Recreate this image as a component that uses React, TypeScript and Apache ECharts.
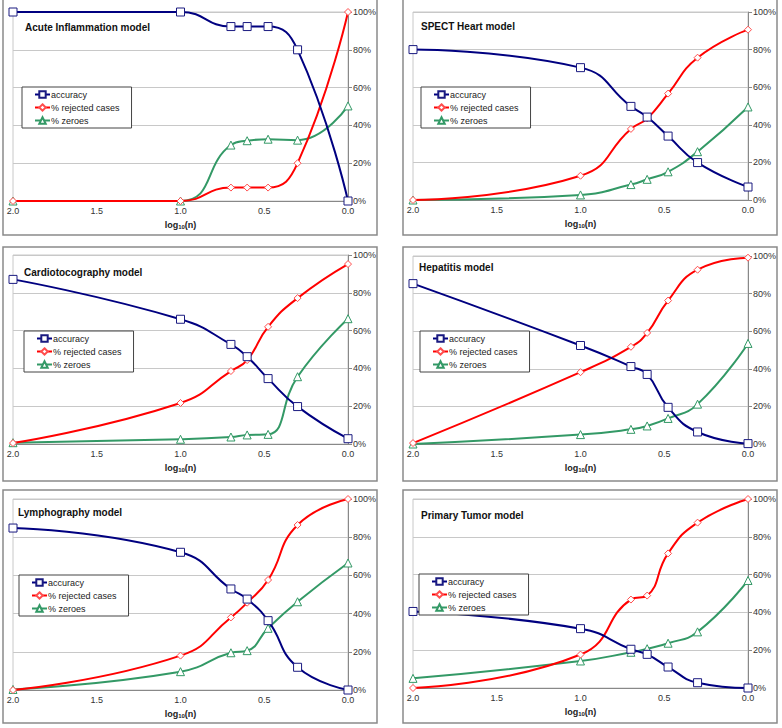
import React, { useEffect, useRef } from "react";
import * as echarts from "echarts";

// n values; x axis shows log10(n)
const N_VALUES = [100, 10, 5, 4, 3, 2, 1];
const X_TICKS = [0, 0.5, 1, 1.5, 2];
const Y_TICKS = [0, 20, 40, 60, 80, 100];

const SERIES_NAMES = ["accuracy", "% rejected cases", "% zeroes"];

const TITLES = [
  "Acute Inflammation model",
  "SPECT Heart model",
  "Cardiotocography model",
  "Hepatitis model",
  "Lymphography model",
  "Primary Tumor model",
];

const ACUTE_ACCURACY = [100, 100, 92.3, 92.3, 92.3, 80, 0];
const ACUTE_REJECTED = [0, 0, 7.1, 7.1, 7.1, 20, 100];
const ACUTE_ZEROES = [0, 0, 29.6, 31.9, 32.7, 32.2, 50.3];

const SPECT_ACCURACY = [80, 70.4, 49.8, 44.1, 34, 19.9, 6.9];
const SPECT_REJECTED = [0, 12.9, 37.8, 43.4, 56.6, 75.7, 90.6];
const SPECT_ZEROES = [0, 2.7, 8.2, 11, 15, 25.7, 49.5];

const CARDIO_ACCURACY = [87.1, 66, 52.7, 46.2, 34.6, 19.8, 2.8];
const CARDIO_REJECTED = [0.5, 21.7, 38.6, 44.4, 62, 77.2, 95.2];
const CARDIO_ZEROES = [0.7, 2.5, 3.7, 4.8, 5.1, 35.6, 66.3];

const HEPATITIS_ACCURACY = [85.3, 52.4, 41.2, 37, 19.5, 6.4, 0.2];
const HEPATITIS_REJECTED = [0.5, 38.2, 51.7, 59.1, 76.3, 92.7, 99.1];
const HEPATITIS_ZEROES = [0, 5, 7.8, 9.6, 13.6, 21.2, 53.5];

const LYMPHO_ACCURACY = [84.8, 72.1, 52.9, 47.6, 36.3, 11.9, 0];
const LYMPHO_REJECTED = [0, 18, 38, 45.7, 57.6, 86.4, 100];
const LYMPHO_ZEROES = [0.3, 9.6, 19.5, 20.6, 32.3, 46.2, 66.5];

const TUMOR_ACCURACY = [40.5, 31.4, 20.5, 17.8, 11.1, 2.8, 0];
const TUMOR_REJECTED = [0, 17.7, 46.8, 48.9, 71.2, 87.5, 100];
const TUMOR_ZEROES = [5.1, 14.3, 18.9, 20.8, 23.7, 29.7, 56.9];

const PANEL_DATA = [
  [ACUTE_ACCURACY, ACUTE_REJECTED, ACUTE_ZEROES],
  [SPECT_ACCURACY, SPECT_REJECTED, SPECT_ZEROES],
  [CARDIO_ACCURACY, CARDIO_REJECTED, CARDIO_ZEROES],
  [HEPATITIS_ACCURACY, HEPATITIS_REJECTED, HEPATITIS_ZEROES],
  [LYMPHO_ACCURACY, LYMPHO_REJECTED, LYMPHO_ZEROES],
  [TUMOR_ACCURACY, TUMOR_REJECTED, TUMOR_ZEROES],
];

// layout (pixels)
const PANEL_BOX = [
  { x: 3, y: -1, w: 374, h: 236 },
  { x: 403, y: -1, w: 374, h: 236 },
  { x: 3, y: 247, w: 374, h: 234 },
  { x: 403, y: 247, w: 374, h: 234 },
  { x: 3, y: 490, w: 374, h: 233 },
  { x: 403, y: 490, w: 374, h: 233 },
];
const GRID_POS = [
  { left: 13, top: 12, width: 335, height: 189 },
  { left: 413, top: 12, width: 335, height: 188 },
  { left: 13, top: 255, width: 335, height: 189 },
  { left: 413, top: 256, width: 335, height: 188 },
  { left: 13, top: 499, width: 335, height: 191 },
  { left: 413, top: 499, width: 335, height: 189 },
];
const TITLE_POS = [
  { left: 25, top: 22 },
  { left: 421, top: 21 },
  { left: 24, top: 267 },
  { left: 419, top: 262 },
  { left: 18, top: 507 },
  { left: 421, top: 510 },
];
const LEGEND_POS = [
  { left: 22, top: 87 },
  { left: 421, top: 87 },
  { left: 24, top: 331 },
  { left: 420, top: 331 },
  { left: 19, top: 575 },
  { left: 419, top: 574 },
];

const FONT = "'Liberation Sans', Arial, sans-serif";
const LINE_COLORS = ["#000080", "#ff0000", "#339966"];
const MARKER_BORDERS = ["#1a1a80", "#ff4d4d", "#339966"];
const SYMBOLS = ["rect", "diamond", "triangle"];
const SYMBOL_SIZES = [8, 7, 8];

export default function App() {
  const ref = useRef<HTMLDivElement>(null);

  useEffect(() => {
    if (!ref.current) return;
    const chart = echarts.init(ref.current, null, { renderer: "svg" });
    const xs = N_VALUES.map((n) => Math.log10(n));

    const grid: any[] = [];
    const xAxis: any[] = [];
    const yAxis: any[] = [];
    const series: any[] = [];
    const title: any[] = [];
    const legend: any[] = [];
    const graphic: any[] = [];

    PANEL_DATA.forEach((panel, p) => {
      const box = PANEL_BOX[p];
      graphic.push({
        type: "rect",
        shape: { x: box.x, y: box.y, width: box.w, height: box.h },
        style: { fill: "none", stroke: "#8a8a8a", lineWidth: 1.5 },
        silent: true,
        z: 0,
      });
      grid.push({
        ...GRID_POS[p],
        show: true,
        borderColor: "#c8c8c8",
        borderWidth: 1,
        backgroundColor: "transparent",
      });
      xAxis.push({
        type: "value",
        gridIndex: p,
        min: X_TICKS[0],
        max: X_TICKS[X_TICKS.length - 1],
        interval: 0.5,
        inverse: true,
        name: "{a|log}{b|10}{a|(n)}",
        nameLocation: "middle",
        nameGap: 18,
        nameTextStyle: {
          rich: {
            a: { fontFamily: FONT, fontSize: 9, fontWeight: "bold", color: "#222" },
            b: { fontFamily: FONT, fontSize: 6, fontWeight: "bold", color: "#222", padding: [5, 0, 0, 0] },
          },
        },
        axisLine: { show: true, onZero: false, lineStyle: { color: "#888", width: 1 } },
        axisTick: { show: false },
        splitLine: { show: false },
        axisLabel: {
          margin: 5,
          fontFamily: FONT,
          fontSize: 9,
          color: "#333",
          formatter: (v: number) => v.toFixed(1),
        },
      });
      yAxis.push({
        type: "value",
        gridIndex: p,
        position: "right",
        min: Y_TICKS[0],
        max: Y_TICKS[Y_TICKS.length - 1],
        interval: 20,
        axisLine: { show: true, lineStyle: { color: "#888", width: 1 } },
        axisTick: { show: true, length: 4, lineStyle: { color: "#888" } },
        splitLine: { show: true, lineStyle: { color: "#c8c8c8", width: 1 } },
        axisLabel: {
          margin: 5,
          fontFamily: FONT,
          fontSize: 9,
          color: "#333",
          formatter: "{value}%",
        },
      });
      title.push({
        text: TITLES[p],
        ...TITLE_POS[p],
        padding: 0,
        textStyle: { fontFamily: FONT, fontSize: 10, fontWeight: "bold", color: "#111" },
      });
      legend.push({
        ...LEGEND_POS[p],
        orient: "vertical",
        data: SERIES_NAMES,
        padding: [3, 12, 3, 12],
        itemGap: 4,
        itemWidth: 15,
        itemHeight: 8,
        borderColor: "#444",
        borderWidth: 1,
        borderRadius: 0,
        backgroundColor: "#fff",
        selectedMode: false,
        textStyle: { fontFamily: FONT, fontSize: 9, color: "#222", padding: [0, 0, 0, -4] },
      });
      panel.forEach((values, s) => {
        series.push({
          type: "line",
          name: SERIES_NAMES[s],
          xAxisIndex: p,
          yAxisIndex: p,
          data: values.map((v, i) => [xs[i], v]),
          smooth: 0.5,
          symbol: SYMBOLS[s],
          symbolSize: SYMBOL_SIZES[s],
          showAllSymbol: true,
          lineStyle: { color: LINE_COLORS[s], width: 2 },
          itemStyle: { color: "#fff", borderColor: MARKER_BORDERS[s], borderWidth: 1 },
          z: 3 - s,
        });
      });
    });

    chart.setOption({
      animation: false,
      backgroundColor: "#fff",
      textStyle: { fontFamily: FONT },
      grid,
      xAxis,
      yAxis,
      title,
      legend,
      series,
      graphic,
    });
    return () => chart.dispose();
  }, []);

  return (
    <div
      ref={ref}
      style={{ position: "absolute", left: 0, top: 0, width: 782, height: 728 }}
    />
  );
}
